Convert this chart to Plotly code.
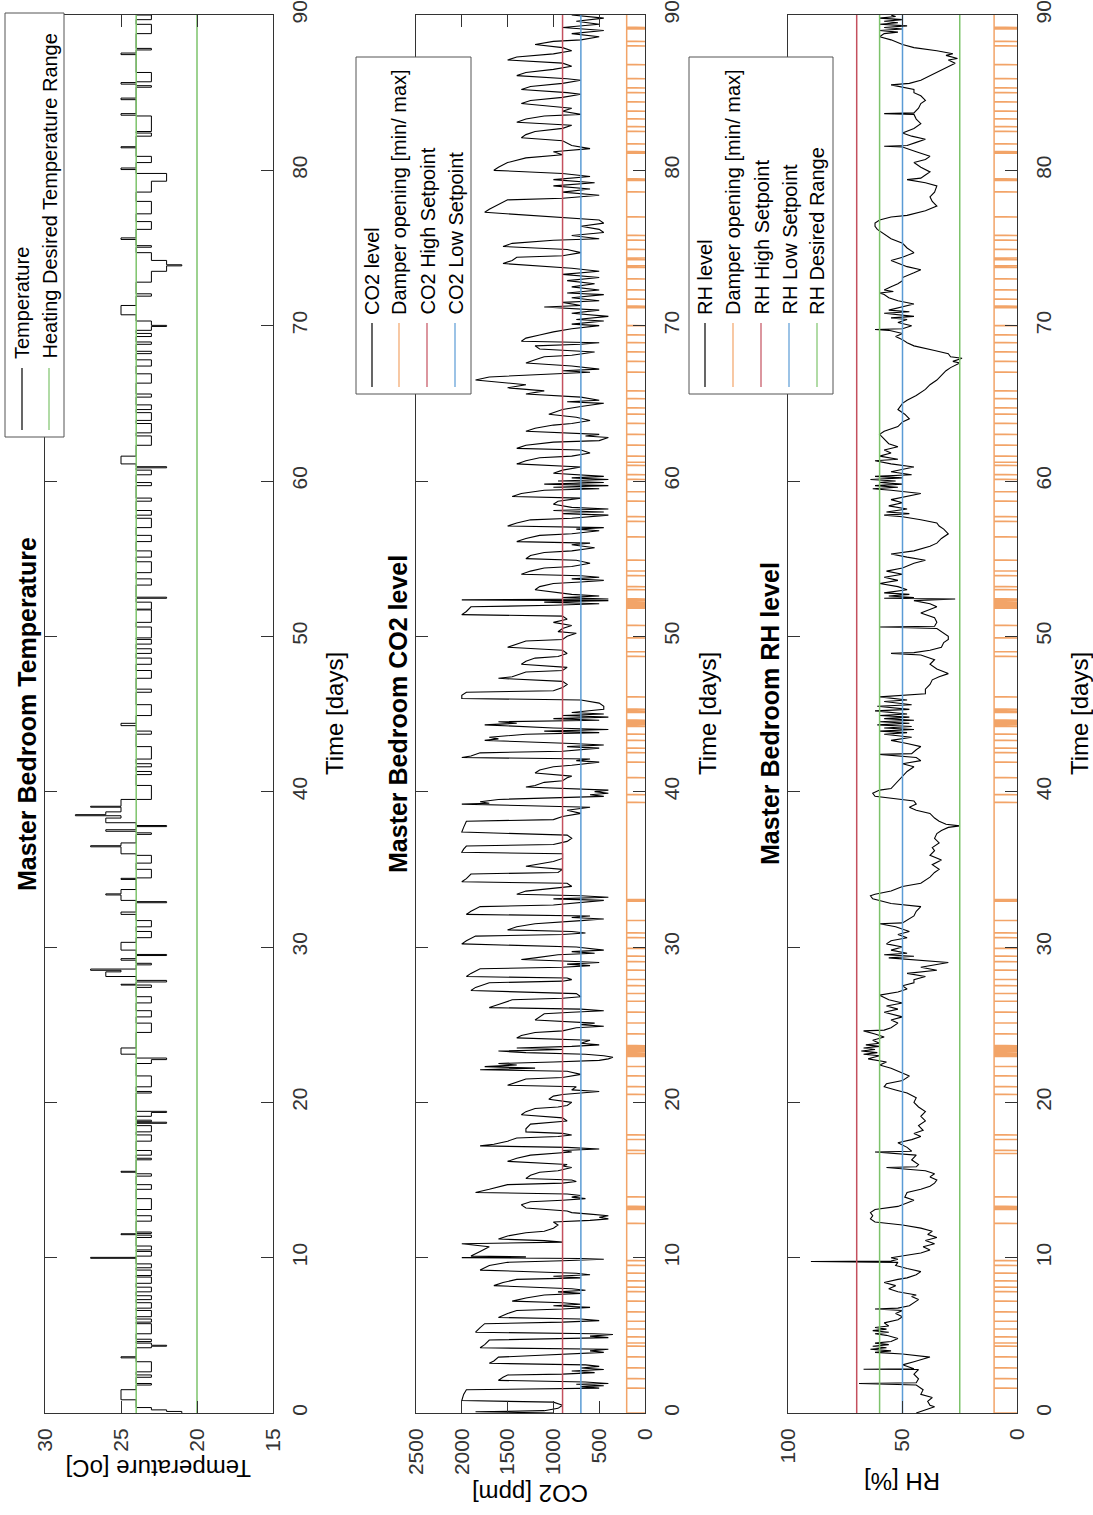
import plotly.graph_objects as go

W, H = 1093, 1515
FONT = "Liberation Sans, Arial, sans-serif"

BLACK = "#000000"
ORANGE = "rgba(236,125,40,0.7)"
RED = "#C4505E"
BLUE = "#5A9BD5"
GREEN = "#7DC36B"
AXIS = "#333333"

# ---------------------------------------------------------------- data ----
day_ticks = [0, 10, 20, 30, 40, 50, 60, 70, 80, 90]
temp_ticks = [15, 20, 25, 30]
co2_ticks = [0, 500, 1000, 1500, 2000, 2500]
rh_ticks = [0, 50, 100]

# temperature: baseline with excursions (start day, end day, level in oC)
temp_base = 24.0
heating_range = [20.0, 24.0]
temp_start = [0.0, 0.1, 0.2, 0.85, 1.8, 2.3, 2.65, 3.55, 4.2, 4.3, 4.36, 4.6, 5.1, 5.85,
              6.2, 6.75, 7.3, 7.8, 8.35, 8.85, 9.35, 9.96, 10.1, 10.5, 11.3, 11.48, 11.56,
              12.35, 13.1, 14.4, 15.25, 15.5, 16.3, 16.6, 17.5, 18.1, 18.65, 18.75, 19.1,
              19.35, 20.6, 21.0, 22.5, 22.75, 23.1, 24.5, 25.5, 26.4, 27.4, 27.55, 27.75,
              28.1, 28.4, 28.5, 28.85, 29.15, 29.45, 29.8, 30.6, 31.3, 32.1, 32.85, 33.0,
              33.35, 33.42, 34.35, 34.45, 35.4, 36.0, 36.45, 36.52, 37.25, 37.45, 37.75,
              38.0, 38.3, 38.45, 38.52, 38.7, 39.0, 39.06, 39.5, 41.1, 41.6, 42.1, 43.7,
              44.25, 44.9, 46.4, 47.3, 48.2, 48.9, 49.5, 49.9, 50.9, 51.75, 52.45, 53.3,
              54.1, 55.1, 56.1, 57.0, 57.8, 58.7, 59.7, 60.4, 60.85, 61.1, 62.3, 63.1, 63.9,
              64.6, 65.4, 66.3, 67.4, 68.2, 68.8, 69.3, 69.7, 69.95, 70.02, 70.7, 71.9, 72.8,
              73.5, 73.85, 73.92, 74.2, 75.05, 75.55, 76.2, 77.2, 78.6, 79.3, 80.05, 80.5,
              81.45, 82.2, 82.5, 83.55, 84.55, 85.35, 85.55, 85.7, 87.45, 87.75, 88.8, 89.7]
temp_end = [0.1, 0.2, 0.35, 1.5, 1.9, 2.45, 3.3, 3.62, 4.3, 4.36, 4.5, 4.75, 5.75, 6.05,
            6.6, 7.1, 7.55, 8.1, 8.75, 9.2, 9.6, 10.02, 10.4, 10.75, 11.45, 11.54, 11.65,
            12.7, 13.8, 14.7, 15.4, 15.56, 16.4, 16.9, 17.9, 18.5, 18.72, 18.85, 19.35,
            19.42, 20.7, 21.7, 22.75, 22.85, 23.5, 25.1, 25.9, 26.8, 27.55, 27.6, 27.85,
            28.4, 28.5, 28.58, 28.95, 29.25, 29.52, 30.3, 31.0, 31.7, 32.25, 32.92, 33.35,
            33.42, 33.7, 34.42, 35.0, 35.9, 36.45, 36.52, 36.7, 37.35, 37.55, 37.82,
            38.3, 38.45, 38.52, 38.7, 39.0, 39.06, 39.5, 40.4, 41.3, 41.8, 42.9, 43.9,
            44.4, 45.6, 46.6, 47.8, 48.6, 49.2, 49.8, 50.6, 51.7, 52.2, 52.52, 53.7,
            54.8, 55.5, 56.5, 57.6, 58.1, 58.9, 59.9, 60.7, 60.92, 61.6, 62.9, 63.7, 64.4,
            64.9, 65.6, 66.9, 67.8, 68.35, 68.95, 69.5, 69.95, 70.02, 70.3, 71.3, 72.05, 73.5,
            73.85, 73.92, 74.2, 74.7, 75.15, 75.65, 76.7, 78.0, 79.3, 79.8, 80.15, 80.9,
            81.52, 82.4, 83.5, 83.65, 84.65, 85.45, 85.65, 86.3, 87.55, 87.85, 89.4, 90.0]
temp_level = [21, 22, 23, 25, 23, 23, 23, 25, 23, 22, 23, 23, 23, 23,
              23, 23, 23, 23, 23, 23, 23, 27, 23, 23, 23, 25, 23,
              23, 23, 23, 23, 25, 23, 23, 23, 23, 22, 23, 23,
              22, 23, 23, 23, 22, 25, 23, 23, 23, 23, 25, 22,
              26, 25, 27, 23, 25, 22, 25, 23, 23, 25, 22, 25,
              26, 25, 25, 23, 23, 25, 27, 25, 23, 26, 22,
              26, 25, 28, 26, 25, 27, 25, 23, 23, 23, 23, 23,
              25, 23, 23, 23, 23, 23, 23, 23, 23, 23, 22, 23,
              23, 23, 23, 23, 23, 23, 23, 23, 22, 25, 23, 23, 23,
              23, 23, 23, 23, 23, 23, 23, 23, 22, 23, 25, 23, 23,
              22, 21, 22, 23, 23, 25, 23, 23, 23, 22, 25, 23,
              25, 23, 23, 25, 25, 23, 25, 23, 25, 23, 23, 23]

# CO2 level [ppm] against time [days]
co2_day = [0.0, 0.08, 0.15, 0.3, 0.5, 0.7, 0.8, 1.2, 1.5, 1.55, 1.6, 1.7, 1.75, 1.85, 1.9, 2.0,
           2.1, 2.3, 2.45, 2.5, 2.6, 2.7, 2.8, 2.9, 3.0, 3.1, 3.2, 3.35, 3.6, 3.7, 3.8, 3.9, 4.0, 4.1,
           4.2, 4.4, 4.7, 4.8, 4.85, 4.95, 5.05, 5.1, 5.2, 5.5, 5.75, 5.85, 5.95, 6.05,
           6.15, 6.4, 6.6, 6.7, 6.8, 6.9, 7.0, 7.1, 7.2, 7.4, 7.6, 7.7, 7.8, 7.9, 8.0,
           8.2, 8.4, 8.6, 8.7, 8.8, 8.9, 9.0, 9.2, 9.5, 9.7, 9.8, 9.9, 9.95,
           10.0, 10.05, 10.1, 10.4, 10.7, 10.9, 10.95, 11.0, 11.1, 11.2, 11.4, 11.6, 11.7, 11.9,
           12.1, 12.3, 12.4, 12.5, 12.6, 12.7, 12.8, 12.9, 13.0, 13.2, 13.4, 13.6, 13.7, 13.8, 13.9, 14.0, 14.1,
           14.2, 14.4, 14.7, 14.8, 14.9, 15.0, 15.1, 15.3, 15.5, 15.6, 15.8, 15.9, 16.0,
           16.2, 16.4, 16.6, 16.7, 16.8, 16.9, 17.0, 17.1, 17.2, 17.3, 17.5, 17.7, 17.8, 17.9, 18.0,
           18.1, 18.3, 18.6, 18.7, 18.8, 19.0, 19.2, 19.4, 19.6, 19.7, 19.8, 20.0,
           20.2, 20.4, 20.5, 20.6, 20.7, 20.8, 21.0, 21.1, 21.3, 21.5, 21.6, 21.8, 22.0,
           22.1, 22.2, 22.3, 22.4, 22.5, 22.6, 22.7, 22.8, 22.9, 23.0, 23.1,
           23.2, 23.3, 23.4, 23.5, 23.6, 23.7, 23.8, 24.0, 24.15, 24.3, 24.5, 24.6, 24.8, 24.9, 25.0, 25.1,
           25.3, 25.5, 25.7, 25.8, 25.9, 26.0, 26.1, 26.3, 26.6, 26.7, 26.8, 27.0,
           27.2, 27.4, 27.7, 27.8, 27.9, 28.0, 28.1, 28.3, 28.6, 28.7, 28.8, 28.9, 29.0, 29.1,
           29.2, 29.3, 29.5, 29.6, 29.7, 29.8, 30.0, 30.2, 30.4, 30.7, 30.8, 30.9, 31.0,
           31.1, 31.3, 31.5, 31.6, 31.7, 31.8, 31.9, 32.0, 32.1, 32.3, 32.6, 32.7, 32.8, 33.0, 33.1, 33.2, 33.3,
           33.4, 33.6, 33.8, 33.9, 34.1, 34.2, 34.4, 34.7, 34.8, 35.0, 35.2, 35.3, 35.5, 35.7, 36.0,
           36.1, 36.3, 36.5, 36.6, 36.8, 37.0, 37.2, 37.4, 37.7, 38.1, 38.2, 38.4, 38.6, 38.8, 39.0,
           39.2, 39.25, 39.35, 39.5, 39.6, 39.7, 39.8, 39.9, 40.0, 40.1, 40.3, 40.4, 40.6, 40.7, 40.9, 41.0,
           41.2, 41.4, 41.6, 41.7, 41.9, 42.0, 42.1, 42.2, 42.3, 42.5, 42.6, 42.8, 42.9, 43.0, 43.1,
           43.3, 43.4, 43.5, 43.7, 43.8, 43.9, 44.0, 44.1, 44.3, 44.4, 44.5, 44.6, 44.7, 44.8, 44.9,
           45.0, 45.1, 45.3, 45.5, 45.7, 45.9, 46.0, 46.2, 46.4, 46.5, 46.7, 46.9, 47.1,
           47.3, 47.4, 47.7, 47.8, 48.0, 48.2, 48.4, 48.6, 48.7, 48.9, 49.1,
           49.3, 49.5, 49.7, 49.8, 50.0, 50.2, 50.3, 50.5, 50.7, 50.9, 51.1, 51.3,
           51.4, 51.6, 51.9, 52.0, 52.1, 52.2, 52.3, 52.35, 52.4, 52.5, 52.6, 52.7,
           53.0, 53.2, 53.4, 53.5, 53.6, 53.7, 53.8, 53.9, 54.0, 54.2, 54.4, 54.5, 54.7, 54.9,
           55.0, 55.2, 55.4, 55.5, 55.7, 55.9, 56.0, 56.1, 56.3, 56.5, 56.6, 56.8, 56.9, 57.0,
           57.1, 57.3, 57.5, 57.6, 57.8, 57.9, 58.0, 58.1, 58.2, 58.3, 58.5, 58.7, 58.9,
           59.0, 59.2, 59.4, 59.5, 59.6, 59.7, 59.8, 59.9, 60.0, 60.1, 60.2, 60.3,
           60.5, 60.7, 60.9, 61.1, 61.3, 61.5, 61.6, 61.8, 62.0, 62.1, 62.3, 62.5, 62.6, 62.8, 62.9, 63.0,
           63.2, 63.4, 63.6, 63.7, 63.9, 64.1, 64.3, 64.4, 64.6, 64.8, 65.0, 65.1, 65.2, 65.4,
           65.6, 65.8, 66.0, 66.2, 66.5, 66.7, 66.9, 67.0, 67.1, 67.2, 67.4,
           67.6, 67.8, 68.0, 68.1, 68.3, 68.5, 68.7, 68.8, 68.9,
           69.0, 69.2, 69.4, 69.6, 69.8, 70.0, 70.1, 70.3, 70.4, 70.6, 70.8, 71.0,
           71.2, 71.3, 71.5, 71.6, 71.8, 72.0, 72.1, 72.3, 72.5, 72.7, 72.9, 73.1, 73.3, 73.5, 73.7,
           74.0, 74.2, 74.4, 74.5, 74.7, 74.9, 75.1, 75.3, 75.5, 75.6, 75.8, 76.0, 76.2, 76.4, 76.6, 76.8, 77.0,
           77.3, 77.5, 77.8, 78.1, 78.2, 78.4, 78.6, 78.8, 79.0, 79.2, 79.4, 79.6, 79.8,
           80.0, 80.2, 80.5, 80.8, 81.0, 81.2, 81.4, 81.6, 81.9,
           82.1, 82.3, 82.5, 82.7, 82.9, 83.1, 83.3, 83.5, 83.6, 83.8, 84.0,
           84.3, 84.5, 84.7, 84.9, 85.0, 85.2, 85.4, 85.6, 85.8, 85.9,
           86.1, 86.3, 86.5, 86.7, 86.9, 87.1, 87.3, 87.5, 87.7, 87.9,
           88.1, 88.3, 88.4, 88.6, 88.8, 89.0, 89.2, 89.4, 89.6, 89.8, 90.0]
co2_ppm = [1000, 1850, 1100, 950, 900, 1000, 2000, 1980, 1950, 800, 500, 700, 450, 750, 400, 650,
           1600, 1550, 1500, 900, 550, 800, 450, 700, 500, 650, 1700, 1650, 1600, 1200, 800, 450, 600, 400,
           1800, 1750, 1700, 900, 400, 600, 350, 550, 1850, 1800, 1750, 900, 500, 700,
           1600, 1500, 1400, 900, 600, 1000, 700, 900, 1450, 1300, 1100, 700, 950, 650, 800,
           1650, 1550, 1400, 700, 1000, 600, 750, 1800, 1700, 1500, 900, 450, 700,
           2000, 1300, 1900, 1800, 1700, 2000, 1200, 900, 1100, 1600, 1500, 1300, 1100, 1000,
           950, 1000, 600, 400, 500, 400, 600, 800, 850, 1300, 1350, 1250, 900, 650, 800, 700, 850,
           1850, 1700, 1500, 900, 750, 800, 1300, 1250, 1150, 950, 800, 900, 850,
           1500, 1400, 1250, 1000, 800, 900, 500, 850, 1800, 1650, 1500, 1400, 950, 800, 900,
           1300, 1300, 1250, 1000, 850, 900, 1350, 1300, 1200, 950, 850, 800,
           1050, 1000, 900, 700, 500, 800, 750, 1500, 1400, 1300, 900, 700, 850,
           1800, 1200, 1750, 1400, 1600, 1000, 500, 400, 350, 450, 650,
           1300, 1600, 900, 1400, 800, 500, 700, 600, 1400, 1350, 1200, 900, 750, 450, 700, 550,
           1200, 1150, 1100, 800, 450, 700, 1700, 1600, 1450, 900, 700, 750,
           1900, 1850, 1700, 900, 800, 850, 1950, 1900, 1800, 900, 600, 850, 500, 900,
           1350, 1200, 950, 550, 800, 450, 750, 2000, 1950, 1850, 900, 650, 800,
           1500, 1400, 1200, 900, 700, 450, 800, 600, 1950, 1900, 1800, 1000, 800, 450, 1000, 400, 700,
           1400, 1300, 1000, 800, 850, 2000, 1950, 1900, 950, 900, 1300, 1200, 1000, 900, 900,
           2000, 1980, 1950, 1000, 850, 800, 850, 2000, 1980, 1950, 1000, 900, 700, 850, 600,
           2000, 1700, 1800, 1600, 900, 450, 600, 400, 550, 400, 1300, 1200, 1100, 900, 850, 800,
           1200, 1150, 1000, 800, 500, 750, 600, 2000, 1900, 1800, 900, 500, 850, 450, 800,
           1750, 1600, 1700, 1300, 500, 1100, 400, 1000, 1750, 1400, 1600, 500, 1000, 400, 900,
           450, 800, 450, 450, 500, 700, 2000, 2000, 1950, 1000, 900, 850, 900,
           1600, 1450, 1300, 900, 850, 1350, 1300, 1200, 950, 850, 900,
           1500, 1400, 1300, 900, 850, 750, 950, 900, 800, 1000, 850, 900,
           2000, 1950, 1900, 1000, 500, 1100, 400, 2000, 400, 900, 500, 800,
           1200, 1150, 1000, 700, 450, 800, 500, 700, 1350, 1250, 1100, 800, 600, 750,
           1300, 1250, 1100, 800, 550, 800, 600, 1400, 1300, 1150, 800, 500, 750, 450,
           1500, 1400, 1250, 800, 400, 900, 450, 1000, 400, 800, 1000, 950, 700,
           1450, 1350, 1100, 500, 1000, 400, 1100, 450, 950, 400, 800, 450,
           1000, 900, 700, 1400, 1300, 1150, 800, 600, 700, 1400, 1300, 1000, 500, 400, 650, 500,
           1300, 1200, 1000, 800, 600, 750, 1050, 1000, 900, 700, 450, 850, 500, 700,
           1300, 1100, 1500, 1300, 1850, 1700, 1000, 600, 900, 500, 800,
           1300, 1200, 1100, 800, 550, 1150, 1200, 700, 500,
           1350, 1300, 1150, 1000, 800, 500, 800, 450, 750, 400, 800, 500,
           1100, 700, 900, 500, 800, 450, 850, 500, 800, 550, 850, 500, 900, 500, 800,
           1550, 1450, 1400, 900, 700, 850, 1550, 1450, 1000, 500, 800, 450, 500, 700, 450, 500, 1000,
           1750, 1700, 1600, 1500, 900, 500, 900, 600, 1000, 550, 1000, 600, 900,
           1650, 1600, 1500, 1300, 900, 1000, 600, 800, 900,
           1350, 1300, 1200, 900, 800, 1400, 1300, 1100, 700, 900, 800,
           1350, 1250, 900, 700, 850, 1350, 1250, 900, 700, 850,
           1400, 1300, 1000, 800, 900, 1500, 1400, 1000, 800, 900,
           1200, 1000, 700, 500, 800, 450, 900, 500, 750, 450, 800]
co2_high = 900
co2_low = 700

# relative humidity [%] against time [days]
rh_day = [0.0, 0.2, 0.4, 0.5, 0.75, 1.0, 1.2, 1.5, 1.8, 1.9, 1.95, 2.2, 2.5, 2.8, 2.82, 2.85, 3.1, 3.3, 3.6,
          3.8, 3.9, 4.0, 4.1, 4.2, 4.3, 4.4, 4.5, 4.6, 4.8, 5.0, 5.1, 5.2, 5.3, 5.4, 5.5, 5.6, 5.8, 6.0, 6.2, 6.4, 6.6, 6.7, 6.75,
          6.9, 7.1, 7.3, 7.5, 7.6, 7.8, 8.0, 8.2, 8.4, 8.6, 8.7, 8.9, 9.1, 9.3, 9.5, 9.7, 9.75, 9.78, 9.9, 10.0,
          10.3, 10.5, 10.7, 10.9, 11.1, 11.3, 11.5, 11.7, 11.9, 12.1, 12.3, 12.5, 12.7, 12.9, 13.1, 13.3, 13.5, 13.7,
          13.9, 14.2, 14.4, 14.6, 14.8, 15.0, 15.2, 15.4, 15.6, 15.8, 15.85, 16.0, 16.3, 16.6, 16.8, 16.85, 17.1, 17.4, 17.6, 17.8,
          18.0, 18.2, 18.5, 18.8, 19.1, 19.4, 19.7, 20.0, 20.3, 20.6, 20.8, 21.0, 21.2, 21.4, 21.7, 22.0, 22.2, 22.4,
          22.6, 22.8, 23.0, 23.1, 23.2, 23.3, 23.4, 23.5, 23.6, 23.7, 23.8, 24.0, 24.2, 24.4, 24.6, 24.65, 24.8, 25.1,
          25.3, 25.5, 25.8, 26.0, 26.2, 26.4, 26.6, 26.9, 27.1, 27.3, 27.5, 27.7, 27.9, 28.1, 28.3, 28.5, 28.7, 29.0,
          29.2, 29.3, 29.4, 29.5, 29.6, 29.8, 30.0, 30.2, 30.4, 30.6, 30.8, 31.0, 31.3, 31.5, 31.55, 31.8, 32.0, 32.3, 32.6,
          32.8, 33.0, 33.1, 33.3, 33.4, 33.6, 33.9, 34.1, 34.3, 34.5, 34.8, 35.0, 35.3, 35.6, 35.9, 36.2, 36.4, 36.7, 37.0, 37.3,
          37.5, 37.7, 37.8, 37.9, 38.1, 38.3, 38.6, 38.8, 39.0, 39.2, 39.4, 39.6, 39.7, 39.9, 40.1, 40.2, 40.5, 40.7, 41.0,
          41.3, 41.6, 41.8, 42.0, 42.2, 42.4, 42.45, 42.7, 42.9, 43.1, 43.3, 43.5, 43.7, 43.8, 43.9, 44.0, 44.1, 44.2, 44.3,
          44.4, 44.5, 44.6, 44.7, 44.8, 44.9, 45.0, 45.2, 45.3, 45.5, 45.6, 45.8, 45.9, 46.1, 46.3, 46.6, 46.9, 47.2, 47.4, 47.6,
          47.9, 48.2, 48.5, 48.8, 48.9, 48.95, 49.1, 49.3, 49.6, 49.8, 50.0, 50.3, 50.5, 50.6, 50.65, 50.9, 51.2, 51.5,
          51.7, 51.9, 52.1, 52.3, 52.4, 52.45, 52.5, 52.6, 52.7, 52.8, 53.0, 53.2, 53.4, 53.6, 53.8, 54.0, 54.2, 54.4, 54.7,
          54.9, 55.1, 55.3, 55.5, 55.8, 56.0, 56.3, 56.6, 56.9, 57.1, 57.3, 57.5, 57.7, 57.8, 57.9, 58.0, 58.2, 58.4, 58.6, 58.8,
          59.0, 59.2, 59.4, 59.5, 59.6, 59.7, 59.8, 59.9, 60.0, 60.1, 60.2, 60.3, 60.4, 60.6, 60.9, 61.1, 61.3, 61.4, 61.6, 61.8,
          62.0, 62.2, 62.4, 62.7, 63.0, 63.2, 63.5, 63.8, 64.0, 64.3, 64.6, 65.0, 65.2, 65.5, 65.9, 66.2, 66.5, 66.8, 67.1, 67.3,
          67.5, 67.6, 67.7, 67.9, 68.0, 68.2, 68.4, 68.7, 68.9, 69.1, 69.3, 69.5, 69.7, 69.75, 69.8, 70.0, 70.2, 70.4, 70.5, 70.6,
          70.8, 70.9, 71.0, 71.2, 71.4, 71.6, 71.8, 72.0, 72.1, 72.2, 72.3, 72.5, 72.7, 72.9, 73.1, 73.4, 73.6, 73.8, 74.0, 74.2,
          74.4, 74.7, 75.0, 75.3, 75.6, 75.9, 76.2, 76.4, 76.6, 76.8, 77.0, 77.1, 77.2, 77.4, 77.7, 78.0, 78.3, 78.6, 79.0, 79.2,
          79.4, 79.5, 79.7, 79.9, 80.2, 80.5, 80.7, 80.9, 81.2, 81.5, 81.55, 81.6, 81.8, 82.0, 82.2, 82.4, 82.7, 83.0, 83.3, 83.6,
          83.65, 83.7, 84.0, 84.3, 84.5, 84.8, 85.0, 85.2, 85.5, 85.6, 85.8, 86.1, 86.3, 86.5, 86.7, 86.9, 87.1, 87.2, 87.4, 87.5,
          87.7, 87.9, 88.1, 88.4, 88.6, 88.8, 88.9, 89.0, 89.1, 89.2, 89.3, 89.4, 89.5, 89.6, 89.7, 89.8, 89.9, 90.0]
rh_pct = [44, 40, 36, 38, 39, 37, 42, 41, 44, 69, 44, 43, 45, 43, 67, 45, 50, 45, 38,
          50, 62, 55, 64, 57, 63, 56, 62, 55, 52, 57, 62, 56, 63, 57, 62, 56, 58, 52, 50, 53, 50, 62, 52,
          47, 45, 43, 46, 44, 52, 56, 53, 58, 52, 48, 44, 42, 48, 53, 52, 90, 55, 52, 55,
          42, 38, 41, 36, 40, 35, 39, 37, 42, 50, 62, 64, 63, 64, 62, 52, 48, 45,
          49, 48, 42, 38, 36, 35, 38, 36, 40, 57, 44, 43, 46, 44, 62, 46, 48, 52, 46, 42,
          45, 41, 43, 40, 42, 40, 43, 45, 44, 48, 53, 58, 57, 50, 47, 52, 55, 60,
          57, 65, 60, 67, 61, 68, 62, 67, 60, 66, 60, 63, 58, 62, 67, 58, 55, 52,
          55, 50, 58, 52, 57, 50, 56, 60, 52, 48, 50, 45, 45, 40, 48, 35, 42, 30,
          50, 56, 45, 58, 48, 55, 50, 57, 55, 48, 52, 47, 53, 60, 50, 47, 45, 44, 42,
          55, 60, 63, 64, 62, 55, 50, 42, 40, 38, 36, 34, 37, 33, 38, 36, 37, 34, 36, 35,
          33, 30, 25, 31, 34, 36, 38, 44, 47, 44, 45, 55, 62, 63, 60, 55, 53, 52, 50,
          48, 45, 50, 42, 44, 60, 46, 44, 42, 48, 55, 46, 58, 48, 60, 45, 58, 46, 61,
          47, 60, 45, 58, 47, 60, 48, 62, 47, 61, 46, 58, 48, 60, 40, 40, 38, 37, 34, 30,
          35, 38, 36, 42, 55, 45, 38, 33, 32, 30, 30, 33, 35, 60, 36, 35, 36, 42,
          38, 35, 38, 45, 27, 58, 45, 56, 47, 58, 48, 52, 60, 52, 58, 50, 57, 50, 45,
          40, 48, 55, 45, 38, 35, 33, 30, 32, 34, 35, 42, 50, 58, 47, 57, 48, 56, 50, 55,
          48, 42, 55, 63, 52, 62, 50, 60, 53, 64, 50, 62, 46, 55, 45, 55, 62, 52, 60, 55,
          58, 52, 56, 58, 60, 58, 52, 50, 47, 49, 52, 50, 48, 44, 40, 38, 35, 33, 31, 29,
          26, 25, 28, 24, 29, 30, 36, 45, 48, 50, 53, 50, 56, 62, 50, 46, 52, 48, 55, 45,
          58, 47, 56, 50, 45, 52, 56, 58, 60, 54, 58, 55, 52, 50, 50, 45, 42, 48, 52, 55,
          50, 45, 48, 50, 55, 58, 61, 62, 62, 60, 55, 48, 45, 40, 35, 37, 38, 36, 35, 40,
          48, 42, 40, 38, 42, 45, 40, 38, 44, 50, 58, 48, 44, 40, 46, 50, 45, 42, 44, 45,
          58, 45, 43, 42, 40, 42, 45, 45, 55, 47, 42, 38, 35, 32, 30, 27, 30, 26, 31, 28,
          35, 45, 50, 55, 60, 58, 52, 60, 50, 58, 48, 60, 52, 58, 50, 60, 53, 55]
rh_high = 70
rh_low = 50
rh_range = [25, 60]

# damper: held open, with short closures on these days
damper_dips = [1.6, 2.2, 2.9, 3.6, 4.3, 4.5, 4.9, 5.4, 5.9, 6.5, 7.2, 7.8, 8.1, 8.5, 9.0, 9.5, 9.8,
               12.2, 13.1, 13.2, 13.3, 13.9, 16.7, 16.9, 17.6, 17.9, 20.5, 21.0, 21.7, 22.3,
               22.95, 23.05, 23.15, 23.25, 23.35, 23.45, 23.55, 23.65, 24.4, 25.1, 25.8, 26.5,
               27.0, 27.5, 27.9, 28.5, 29.05, 29.4, 29.9, 30.6, 30.9, 31.7, 32.95, 33.0, 33.05,
               39.3, 39.8, 40.9, 41.9, 42.5, 42.8, 43.3, 43.7, 44.2, 44.3, 44.4, 44.5, 44.6,
               45.1, 45.2, 45.3, 46.1, 48.7, 49.0, 49.9, 50.7, 51.8, 51.9, 52.0, 52.1, 52.2,
               52.3, 52.4, 53.0, 53.2, 53.9, 54.2, 54.9, 56.4, 57.4, 57.7, 58.7, 59.3, 60.1,
               60.4, 61.0, 61.2, 61.6, 62.3, 63.0, 63.7, 64.3, 64.7, 65.3, 65.8, 67.0, 67.7,
               68.3, 68.9, 69.4, 70.0, 71.15, 71.25, 71.7, 72.3, 73.0, 73.75, 73.85, 74.25,
               74.35, 74.9, 75.5, 75.8, 77.0, 78.6, 79.35, 79.45, 81.1, 81.2, 81.7, 82.5, 82.8,
               83.3, 83.8, 84.4, 85.0, 85.3, 85.9, 86.8, 88.0, 88.3, 89.1, 89.2]
damper_dip_len = 0.03
damper_max_co2 = 200
damper_max_rh = 10

assert len(temp_start) == len(temp_end) == len(temp_level)
assert len(co2_day) == len(co2_ppm), (len(co2_day), len(co2_ppm))
assert len(rh_day) == len(rh_pct), (len(rh_day), len(rh_pct))


# -------------------------------------------------------------- helpers ---
def px(x):
    return x / W


def py(y):
    return 1 - y / H


def temperature_steps():
    t, v = [], []
    cur_t, cur_v = 0.0, temp_base
    for s, e, lvl in zip(temp_start, temp_end, temp_level):
        if s > cur_t and cur_v != temp_base:
            t.append(cur_t)
            v.append(temp_base)
            cur_v = temp_base
        if t or s > 0:
            t.append(s)
            v.append(cur_v)
        t += [s, e]
        v += [lvl, lvl]
        cur_t, cur_v = e, lvl
    t += [cur_t, 90.0]
    v += [temp_base, temp_base]
    return t, v


def damper_steps(top):
    t, v = [0.0, 0.0], [0.0, top]
    for d in damper_dips:
        t += [d, d, d + damper_dip_len, d + damper_dip_len]
        v += [top, 0, 0, top]
    t.append(90.0)
    v.append(top)
    return t, v


def line(xs, ys, color, width, xa, ya):
    # x carries the measured value, y carries time (the page is turned on its side)
    return go.Scatter(x=xs, y=ys, mode="lines", line=dict(color=color, width=width),
                      xaxis=xa, yaxis=ya, hoverinfo="skip")


def setpoint(value, color, xa, ya):
    return line([value, value], [0, 90], color, 1.5, xa, ya)


# --------------------------------------------------------------- figure ---
fig = go.Figure()

tt, tv = temperature_steps()
fig.add_trace(line(tv, tt, BLACK, 1, "x", "y"))
for lvl in heating_range:
    fig.add_trace(setpoint(lvl, GREEN, "x", "y"))

fig.add_trace(line(co2_ppm, co2_day, BLACK, 1.1, "x2", "y2"))
dt, dv = damper_steps(damper_max_co2)
fig.add_trace(line(dv, dt, ORANGE, 1.5, "x2", "y2"))
fig.add_trace(setpoint(co2_high, RED, "x2", "y2"))
fig.add_trace(setpoint(co2_low, BLUE, "x2", "y2"))

fig.add_trace(line(rh_pct, rh_day, BLACK, 1.1, "x3", "y3"))
dt, dv = damper_steps(damper_max_rh)
fig.add_trace(line(dv, dt, ORANGE, 1.5, "x3", "y3"))
fig.add_trace(setpoint(rh_high, RED, "x3", "y3"))
fig.add_trace(setpoint(rh_low, BLUE, "x3", "y3"))
for lvl in rh_range:
    fig.add_trace(setpoint(lvl, GREEN, "x3", "y3"))

tick_font = dict(family=FONT, size=21, color=AXIS)
common = dict(showline=True, linecolor=AXIS, linewidth=1, mirror="ticks", ticks="inside",
              ticklen=12, tickcolor=AXIS, showgrid=False, zeroline=False, tickangle=-90,
              tickfont=tick_font, automargin=False, fixedrange=True,
              ticklabeloverflow="allow")

panels = [((45, 273), [30, 15], temp_ticks), ((416, 645), [2500, 0], co2_ticks),
          ((788, 1017), [100, 0], rh_ticks)]
axes = {}
for i, ((x0, x1), rng, ticks) in enumerate(panels, start=1):
    sfx = "" if i == 1 else str(i)
    axes[f"xaxis{sfx}"] = dict(common, domain=[px(x0), px(x1)], range=rng, tickvals=ticks,
                               anchor=f"y{sfx}", side="bottom", ticklabelstandoff=6)
    axes[f"yaxis{sfx}"] = dict(common, domain=[py(1413), py(15)], range=[0, 90],
                               tickvals=day_ticks, anchor=f"x{sfx}", side="right",
                               ticklabelstandoff=8)

annotations = []


def text(x, y, s, size, angle, bold=False, yanchor="middle"):
    annotations.append(dict(x=px(x), y=py(y), xref="paper", yref="paper", text=s,
                            showarrow=False, textangle=angle, xanchor="center",
                            yanchor=yanchor,
                            font=dict(family=FONT, size=size, color="#000000",
                                      weight="bold" if bold else "normal")))


text(27, 714, "Master Bedroom Temperature", 25, -90, bold=True)
text(398, 714, "Master Bedroom CO2 level", 25, -90, bold=True)
text(770, 714, "Master Bedroom RH level", 25, -90, bold=True)
for x in (334, 707, 1079):
    text(x, 714, "Time [days]", 24, -90)
text(159, 1469, "Temperature [oC]", 24, 180)
text(530, 1494, "CO2 [ppm]", 24, 180)
text(902, 1482, "RH [%]", 24, 180)

shapes = []
legends = [
    ((5, 64, 13, 437), 368, 430, 361,
     [(22, BLACK, "Temperature"), (49, GREEN, "Heating Desired Temperature Range")]),
    ((356, 471, 57, 394), 323, 387, 317,
     [(372, BLACK, "CO2 level"), (399, ORANGE, "Damper opening [min/ max]"),
      (427, RED, "CO2 High Setpoint"), (455, BLUE, "CO2 Low Setpoint")]),
    ((689, 833, 57, 394), 323, 387, 317,
     [(705, BLACK, "RH level"), (733, ORANGE, "Damper opening [min/ max]"),
      (761, RED, "RH High Setpoint"), (789, BLUE, "RH Low Setpoint"),
      (817, GREEN, "RH Desired Range")]),
]
for (bx0, bx1, by0, by1), ly0, ly1, ty, entries in legends:
    shapes.append(dict(type="rect", xref="paper", yref="paper", x0=px(bx0), x1=px(bx1),
                       y0=py(by1), y1=py(by0), fillcolor="white",
                       line=dict(color="#555555", width=1), layer="above"))
    for cx, color, label in entries:
        shapes.append(dict(type="line", xref="paper", yref="paper", x0=px(cx), x1=px(cx),
                           y0=py(ly1), y1=py(ly0), line=dict(color=color, width=1.2),
                           layer="above"))
        text(cx, ty, label, 20, -90, yanchor="bottom")

fig.update_layout(
    width=W,
    height=H,
    margin=dict(l=0, r=0, t=0, b=0),
    paper_bgcolor="white",
    plot_bgcolor="white",
    showlegend=False,
    font=dict(family=FONT, size=20, color="#000000"),
    annotations=annotations,
    shapes=shapes,
    **axes,
)

# drop the page's default 8px body margin so the figure fills the window exactly
fig.write_html("out.html", config={"displayModeBar": False},
               post_script="document.body.style.margin = '0';")
